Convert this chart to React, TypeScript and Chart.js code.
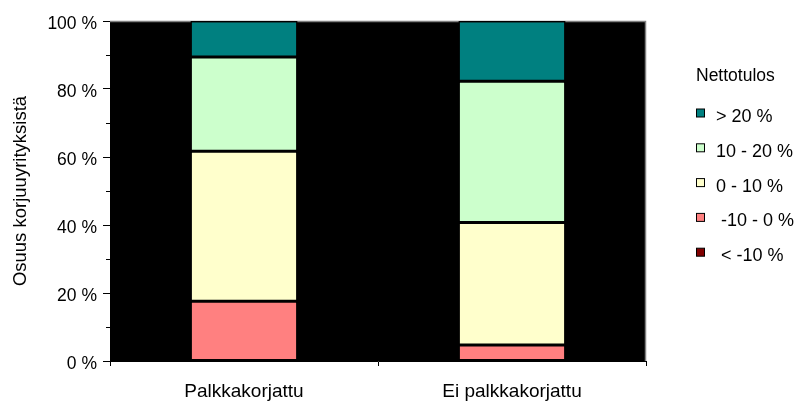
import React, { useEffect, useRef } from "react";
import { Chart, registerables } from "chart.js";

Chart.register(...registerables);

// ---- data ----
const categories = ["Palkkakorjattu", "Ei palkkakorjattu"];
const seriesLabels = ["< -10 %", " -10 - 0 %", "0 - 10 %", "10 - 20 %", "> 20 %"];
const legendNames = [" < -10 %", " -10 - 0 %", "0 - 10 %", "10 - 20 %", "> 20 %"];
const lessThanMinus10 = [0, 0];
const minus10To0 = [17.6, 4.7];
const zeroTo10 = [44.1, 36.0];
const tenTo20 = [27.7, 41.6];
const over20 = [10.6, 17.7];
const minorTickValues = [10, 30, 50, 70, 90];
const yAxisTitle = "Osuus korjuuyrityksistä";
const legendTitle = "Nettotulos";

const seriesColors = ["#800000", "#FF8080", "#FFFFCC", "#CCFFCC", "#008080"];
const FONT = '"Liberation Sans", Arial, sans-serif';

const chartPlugin = {
  id: "excelLook",
  beforeDraw(chart: any) {
    const { ctx, chartArea: a } = chart;
    ctx.save();
    ctx.fillStyle = "#ffffff";
    ctx.fillRect(0, 0, chart.width, chart.height);
    ctx.fillStyle = "#000000";
    ctx.fillRect(a.left, a.top, a.right - a.left, a.bottom - a.top);
    ctx.restore();
  },
  beforeDatasetsDraw(chart: any) {
    const { ctx, chartArea: a } = chart;
    ctx.save();
    ctx.strokeStyle = "#808080";
    ctx.lineWidth = 1.5;
    ctx.beginPath();
    ctx.moveTo(a.left, a.top + 0.5);
    ctx.lineTo(a.right - 0.5, a.top + 0.5);
    ctx.lineTo(a.right - 0.5, a.bottom);
    ctx.stroke();
    ctx.restore();
  },
  afterDraw(chart: any) {
    const { ctx, chartArea: a } = chart;
    const y = chart.scales.y;
    ctx.save();
    // minor ticks
    ctx.strokeStyle = "#000";
    ctx.lineWidth = 1;
    ctx.beginPath();
    minorTickValues.forEach((v) => {
      const py = Math.round(y.getPixelForValue(v)) + 0.5;
      ctx.moveTo(a.left - 4, py);
      ctx.lineTo(a.left, py);
    });
    ctx.stroke();

    // legend
    const ds = chart.data.datasets;
    ctx.fillStyle = "#000";
    ctx.textAlign = "left";
    ctx.textBaseline = "middle";
    ctx.font = `17.5px ${FONT}`;
    ctx.fillText(legendTitle, 696, 76);
    ctx.font = `18px ${FONT}`;
    const n = ds.length;
    for (let i = 0; i < n; i++) {
      const d = ds[n - 1 - i];
      const cy = 113 + i * 34.8;
      ctx.fillStyle = d.backgroundColor;
      ctx.fillRect(696.5, cy - 4, 8, 8);
      ctx.strokeStyle = "#000";
      ctx.lineWidth = 1;
      ctx.strokeRect(696.5, cy - 4, 8, 8);
      ctx.fillStyle = "#000";
      ctx.fillText(legendNames[n - 1 - i], 716, cy + 4);
    }
    ctx.restore();
  },
};

export default function App() {
  const canvasRef = useRef<HTMLCanvasElement | null>(null);

  useEffect(() => {
    document.body.style.margin = "0";
    const canvas = canvasRef.current;
    if (!canvas) return;
    const values = [lessThanMinus10, minus10To0, zeroTo10, tenTo20, over20];
    const chart = new Chart(canvas, {
      type: "bar",
      data: {
        labels: categories,
        datasets: values.map((vals, i) => ({
          label: seriesLabels[i],
          data: vals,
          backgroundColor: seriesColors[i],
          borderColor: "#000000",
          borderWidth: 1.5,
          borderSkipped: false,
          categoryPercentage: 1,
          barPercentage: 0.4,
        })),
      },
      options: {
        animation: false,
        responsive: true,
        maintainAspectRatio: false,
        devicePixelRatio: 1,
        layout: { padding: { left: 0, right: 153, top: 21, bottom: 0 } },
        plugins: {
          legend: { display: false },
          tooltip: { enabled: false },
        },
        scales: {
          x: {
            stacked: true,
            ticks: { color: "#000", font: { family: FONT, size: 19 }, padding: 14 },
            grid: { drawOnChartArea: false, drawTicks: true, tickLength: 5, color: "#000", offset: true },
            border: { display: true, color: "#000", width: 1 },
            afterFit: (s: any) => {
              s.height = 42;
            },
          },
          y: {
            stacked: true,
            min: 0,
            max: 100,
            ticks: {
              stepSize: 20,
              color: "#000",
              font: { family: FONT, size: 17.5 },
              padding: 6,
              labelOffset: 3,
              callback: (v: any) => `${v} %`,
            },
            grid: { drawOnChartArea: false, drawTicks: true, tickLength: 7, color: "#000" },
            border: { display: true, color: "#000", width: 1 },
            title: {
              display: true,
              text: yAxisTitle,
              color: "#000",
              font: { family: FONT, size: 18.5 },
              padding: { top: 10, bottom: 0 },
            },
            afterFit: (s: any) => {
              s.width = 110;
            },
          },
        },
      },
      plugins: [chartPlugin],
    });
    return () => chart.destroy();
  }, []);

  return (
    <div style={{ position: "absolute", left: 0, top: 0, width: 799, height: 403 }}>
      <canvas ref={canvasRef} />
    </div>
  );
}
